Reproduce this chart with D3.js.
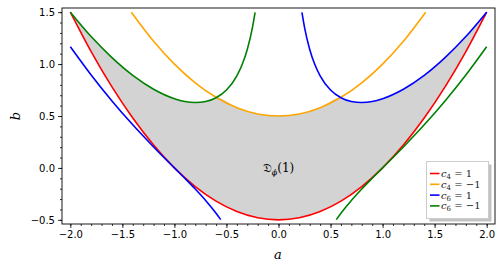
<!DOCTYPE html>
<html><head><meta charset="utf-8">
<script src="https://cdn.jsdelivr.net/npm/d3@7"></script>
<style>body{margin:0;background:#fff}svg{display:block}</style>
</head><body>
<svg id="c" width="503" height="271"></svg>
<script>
// Curves: [a, b]
const redC4p1 = [[-2,1.5],[-1.8,1.12],[-1.6,0.78],[-1.4,0.48],[-1.2,0.22],[-1.0,0],[-0.8,-0.18],[-0.6,-0.32],[-0.4,-0.42],[-0.2,-0.48],[0,-0.5],[0.2,-0.48],[0.4,-0.42],[0.6,-0.32],[0.8,-0.18],[1.0,0],[1.2,0.22],[1.4,0.48],[1.6,0.78],[1.8,1.12],[2,1.5]];
const orangeC4m1 = [[-1.414,1.5],[-1.2,1.22],[-1.0,1.0],[-0.8,0.82],[-0.6,0.68],[-0.4,0.58],[-0.2,0.52],[0,0.5],[0.2,0.52],[0.4,0.58],[0.6,0.68],[0.8,0.82],[1.0,1.0],[1.2,1.22],[1.414,1.5]];
const blueC6p1a = [[-2,1.167],[-1.8,0.895],[-1.6,0.645],[-1.4,0.415],[-1.2,0.202],[-1.0,0],[-0.9,-0.1],[-0.8,-0.203],[-0.7,-0.313],[-0.6,-0.436],[-0.555,-0.498]];
const blueC6p1b = [[0.225,1.498],[0.25,1.354],[0.3,1.141],[0.35,0.993],[0.4,0.887],[0.5,0.75],[0.6,0.676],[0.7,0.64],[0.8,0.63],[0.9,0.64],[1.0,0.667],[1.2,0.758],[1.4,0.891],[1.6,1.062],[1.8,1.265],[2,1.5]];
const greenC6m1a = [[-2,1.5],[-1.8,1.265],[-1.6,1.062],[-1.4,0.891],[-1.2,0.758],[-1.0,0.667],[-0.9,0.64],[-0.8,0.63],[-0.7,0.64],[-0.6,0.676],[-0.5,0.75],[-0.4,0.887],[-0.35,0.993],[-0.3,1.141],[-0.25,1.354],[-0.225,1.498]];
const greenC6m1b = [[0.555,-0.498],[0.6,-0.436],[0.7,-0.313],[0.8,-0.203],[0.9,-0.1],[1.0,0],[1.2,0.202],[1.4,0.415],[1.6,0.645],[1.8,0.895],[2,1.167]];
const regionTop = [[-2,1.5],[-1.8,1.265],[-1.6,1.062],[-1.4,0.891],[-1.2,0.758],[-1.0,0.667],[-0.9,0.64],[-0.8,0.63],[-0.7,0.64],[-0.6,0.676],[-0.596,0.678],[-0.4,0.58],[-0.2,0.52],[0,0.5],[0.2,0.52],[0.4,0.58],[0.596,0.678],[0.6,0.676],[0.7,0.64],[0.8,0.63],[0.9,0.64],[1.0,0.667],[1.2,0.758],[1.4,0.891],[1.6,1.062],[1.8,1.265],[2,1.5]];
const xTicks = [-2,-1.5,-1,-0.5,0,0.5,1,1.5,2];
const yTicks = [-0.5,0,0.5,1,1.5];
const legendItems = [["red","4","1"],["orange","4","\u22121"],["blue","6","1"],["green","6","\u22121"]];

const svg = d3.select("#c");
const L=62,R=495,T=8,B=224;
const x = d3.scaleLinear().domain([-2.08,2.08]).range([L,R]);
const y = d3.scaleLinear().domain([-0.54,1.54]).range([B,T]);
const line = d3.line().x(d=>x(d[0])).y(d=>y(d[1])).curve(d3.curveMonotoneX);

// region fill
const poly = regionTop.concat(redC4p1.slice().reverse());
const area = d3.area().x(d=>x(d[0])).y0(d=>y(d[1])).curve(d3.curveLinear);
const top2 = regionTop;
svg.append("path")
  .attr("d", line(regionTop) + "L" + line(redC4p1.slice().reverse()).slice(1) + "Z")
  .attr("fill","#d3d3d3").attr("stroke","none");

const curves = [[redC4p1,"red"],[orangeC4m1,"orange"],[blueC6p1a,"blue"],[blueC6p1b,"blue"],[greenC6m1a,"green"],[greenC6m1b,"green"]];
curves.forEach(([d,c])=>{
  svg.append("path").attr("d",line(d)).attr("fill","none").attr("stroke",c).attr("stroke-width",1.6);
});

// frame
svg.append("rect").attr("x",L).attr("y",T).attr("width",R-L).attr("height",B-T)
  .attr("fill","none").attr("stroke","#000").attr("stroke-width",0.9);

// axes
const xAx = svg.append("g").attr("transform",`translate(0,${B})`)
  .call(d3.axisBottom(x).tickValues(xTicks).tickSize(4).tickPadding(3).tickFormat(d3.format(".1f")));
const xMin = svg.append("g").attr("transform",`translate(0,${B})`)
  .call(d3.axisBottom(x).tickValues(d3.range(-20,21).map(v=>v/10)).tickSize(2).tickFormat(""));
const yAx = svg.append("g").attr("transform",`translate(${L},0)`)
  .call(d3.axisLeft(y).tickValues(yTicks).tickSize(4).tickPadding(3).tickFormat(d3.format(".1f")));
const yMin = svg.append("g").attr("transform",`translate(${L},0)`)
  .call(d3.axisLeft(y).tickValues(d3.range(-5,16).map(v=>v/10)).tickSize(2).tickFormat(""));
[xAx,xMin,yAx,yMin].forEach(g=>{
  g.select(".domain").remove();
  g.selectAll("line").attr("stroke","#000").attr("stroke-width",0.8);
  g.selectAll("text").attr("font-family","DejaVu Sans").attr("font-size",10).attr("fill","#000");
});
yAx.selectAll("text").text(d=>d3.format(".1f")(d).replace("-","\u2212"));
xAx.selectAll("text").text(d=>d3.format(".1f")(d).replace("-","\u2212"));

// axis labels
svg.append("text").attr("x",278).attr("y",259).attr("text-anchor","middle")
  .attr("font-family","DejaVu Serif").attr("font-style","italic").attr("font-size",13).text("a");
svg.append("text").attr("transform","translate(20,116) rotate(-90)").attr("text-anchor","middle")
  .attr("font-family","DejaVu Serif").attr("font-style","italic").attr("font-size",13).text("b");

// region label
const lab = svg.append("text").attr("x",x(0)).attr("y",y(0)+4).attr("text-anchor","middle")
  .attr("font-family","DejaVu Serif").attr("font-size",12);
lab.append("tspan").text("\uD835\uDD07");
lab.append("tspan").attr("font-style","italic").attr("font-size",8).attr("dy",3).text("\u03D5");
lab.append("tspan").attr("dy",-3).text("(1)");

// legend
const lg = svg.append("g");
lg.append("rect").attr("x",429.5).attr("y",164.5).attr("width",62).attr("height",57).attr("fill","#999").attr("opacity",0.6);
lg.append("rect").attr("x",426.5).attr("y",161.5).attr("width",62).attr("height",57).attr("fill","#fff").attr("stroke","#ccc").attr("stroke-width",1);
legendItems.forEach((it,i)=>{
  const yy = 173.5 + i*10.8;
  lg.append("line").attr("x1",430).attr("x2",439.5).attr("y1",yy).attr("y2",yy).attr("stroke",it[0]).attr("stroke-width",1.6);
  const t = lg.append("text").attr("x",441).attr("y",yy+3.5).attr("font-family","DejaVu Serif").attr("font-size",10).attr("fill","#222");
  t.append("tspan").attr("font-style","italic").text("c");
  t.append("tspan").attr("font-size",7).attr("dy",2).text(it[1]);
  t.append("tspan").attr("dy",-2).text(" = " + it[2]);
});
</script>
</body></html>
